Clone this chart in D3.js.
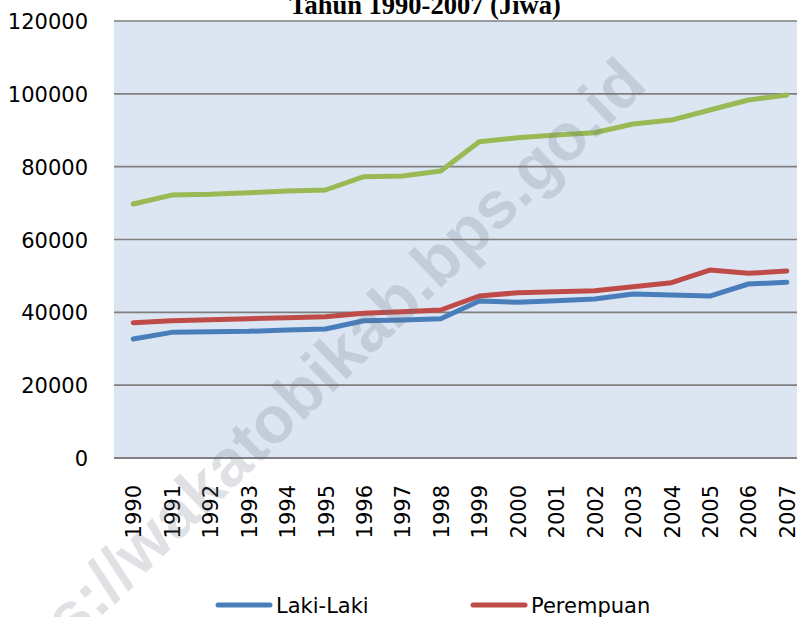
<!DOCTYPE html>
<html>
<head>
<meta charset="utf-8">
<script src="https://cdn.jsdelivr.net/npm/d3@7"></script>
<style>
  body { margin: 0; background: #fff; }
  svg { display: block; }
</style>
</head>
<body>
<svg id="chart" width="797" height="617"></svg>
<script>
// data
const years = ["1990", "1991", "1992", "1993", "1994", "1995", "1996", "1997", "1998",
    "1999", "2000", "2001", "2002", "2003", "2004", "2005", "2006", "2007"];
const lakiLaki = [32670, 34500, 34690, 34780, 35150, 35420, 37700, 37900, 38250,
    43110, 42750, 43200, 43660, 45030, 44750, 44480, 47780, 48240];
const perempuan = [37150, 37700, 37980, 38250, 38530, 38800, 39720, 40170, 40640,
    44480, 45390, 45660, 45940, 47030, 48130, 51620, 50710, 51340];
const jumlah = [69740, 72200, 72400, 72850, 73300, 73590, 77240, 77430, 78800,
    86850, 87950, 88690, 89320, 91700, 92800, 95550, 98300, 99670];
const yTicks = [0, 20000, 40000, 60000, 80000, 100000, 120000];
const titleText = "Tahun 1990-2007 (Jiwa)";
const watermark = "https://wakatobikab.bps.go.id";

const series = [
    { name: "Laki-Laki", values: lakiLaki, color: "#4a7ebb" },
    { name: "Perempuan", values: perempuan, color: "#be4b48" },
    { name: "Jumlah", values: jumlah, color: "#98b954" }
];

const svg = d3.select("#chart");
const plot = { left: 114, right: 806, top: 21, bottom: 458 };

let x = d3.scalePoint()
    .domain(years)
    .range([plot.left, plot.right])
    .padding(0.5);

let y = d3.scaleLinear()
    .domain([0, 120000])
    .range([plot.bottom, plot.top]);

/* plot background */
svg.append("rect")
    .attr("x", plot.left)
    .attr("y", plot.top)
    .attr("width", plot.right - plot.left)
    .attr("height", plot.bottom - plot.top)
    .style("fill", "#dce6f2");

/* gridlines */
svg.append("g")
    .selectAll("line")
    .data(yTicks)
    .enter()
    .append("line")
    .attr("x1", plot.left)
    .attr("x2", plot.right)
    .attr("y1", d => y(d))
    .attr("y2", d => y(d))
    .style("stroke", "#7f7f7f")
    .style("stroke-width", d => d == 0 ? 2.2 : 1.7);

/* y axis labels */
let yAxis = svg.append("g")
    .attr("transform", `translate(${plot.left - 26},0)`)
    .call(d3.axisLeft(y).tickValues(yTicks).tickSize(0).tickPadding(0).tickFormat(d3.format("d")));
yAxis.select(".domain").remove();
yAxis.selectAll("text")
    .attr("dy", "0.36em")
    .style("font-family", "DejaVu Sans")
    .style("font-size", "21px")
    .style("fill", "#000");

/* x axis labels, rotated */
let xAxis = svg.append("g")
    .attr("transform", `translate(0,${plot.bottom})`)
    .call(d3.axisBottom(x).tickSize(0));
xAxis.select(".domain").remove();
xAxis.selectAll("text")
    .attr("transform", "rotate(-90)")
    .attr("x", -27)
    .attr("y", 0)
    .attr("dy", "0.36em")
    .style("text-anchor", "end")
    .style("font-family", "DejaVu Sans")
    .style("font-size", "21px")
    .style("fill", "#000");

/* lines */
let line = d3.line()
    .x((d, i) => x(years[i]))
    .y(d => y(d));

svg.append("g")
    .selectAll("path")
    .data(series)
    .enter()
    .append("path")
    .attr("d", d => line(d.values))
    .style("fill", "none")
    .style("stroke", d => d.color)
    .style("stroke-width", 5)
    .style("stroke-linejoin", "round")
    .style("stroke-linecap", "round");

/* title (top part cut off in the original) */
svg.append("text")
    .attr("x", 425)
    .attr("y", 13.5)
    .attr("text-anchor", "middle")
    .text(titleText)
    .style("font-family", "Liberation Serif")
    .style("font-weight", "bold")
    .style("font-size", "26.5px");

/* legend: only the first two entries are visible */
let legendPos = [218, 473];
let legend = svg.append("g")
    .selectAll("g")
    .data(series.slice(0, 2))
    .enter()
    .append("g")
    .attr("transform", (d, i) => `translate(${legendPos[i]},605)`);

legend.append("line")
    .attr("x1", 0)
    .attr("x2", 52)
    .style("stroke", d => d.color)
    .style("stroke-width", 5)
    .style("stroke-linecap", "round");

legend.append("text")
    .attr("x", 58)
    .attr("dy", "0.36em")
    .text(d => d.name)
    .style("font-family", "DejaVu Sans")
    .style("font-size", "21px");

/* watermark */
svg.append("text")
    .attr("transform", "translate(649,87) rotate(-44)")
    .attr("text-anchor", "end")
    .text(watermark)
    .style("font-family", "Liberation Sans")
    .style("font-weight", "bold")
    .style("font-size", "66px")
    .style("fill", "rgb(100,110,125)")
    .style("opacity", 0.2);
</script>
</body>
</html>
